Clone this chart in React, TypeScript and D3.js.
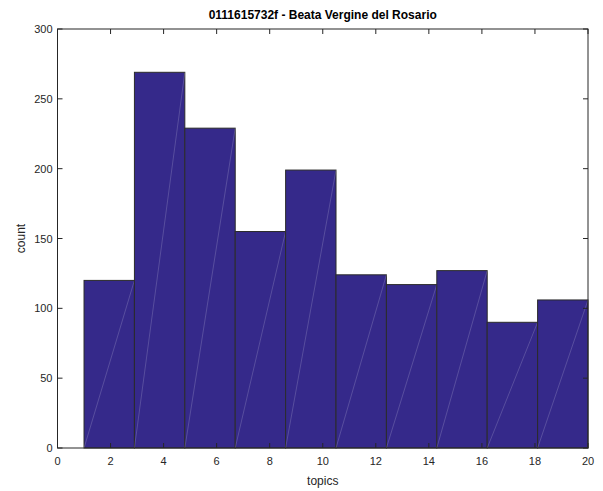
import React from "react";
import * as d3 from "d3";

const title = "0111615732f - Beata Vergine del Rosario";
const binEdges = [1, 2.9, 4.8, 6.7, 8.6, 10.5, 12.4, 14.3, 16.2, 18.1, 20];
const counts = [120, 269, 229, 155, 199, 124, 117, 127, 90, 106];
const xTicks = [0, 2, 4, 6, 8, 10, 12, 14, 16, 18, 20];
const yTicks = [0, 50, 100, 150, 200, 250, 300];

export default function App() {
  const W = 603, H = 491;
  const left = 57.5, right = 588, top = 29, bottom = 448;
  const x = d3.scaleLinear().domain([0, 20]).range([left, right]);
  const y = d3.scaleLinear().domain([0, 300]).range([bottom, top]);
  const font = "'Liberation Sans', Arial, Helvetica, sans-serif";
  const tl = 5;
  return (
    <svg width={W} height={H} style={{ position: "absolute", left: 0, top: 0 }} fontFamily={font}>
      <rect x={0} y={0} width={W} height={H} fill="#fff" />
      {counts.map((c, i) => {
        const x0 = x(binEdges[i]), x1 = x(binEdges[i + 1]);
        return (
          <g key={i}>
            <rect x={x0} y={y(c)} width={x1 - x0} height={y(0) - y(c)} fill="#35298a" stroke="#2b2b2b" strokeWidth={1} />
            <line x1={x0} y1={y(0)} x2={x1} y2={y(c)} stroke="rgba(255,255,255,0.35)" strokeWidth={0.5} />
          </g>
        );
      })}
      <rect x={left} y={top} width={right - left} height={bottom - top} fill="none" stroke="#262626" strokeWidth={1} />
      {xTicks.map((t) => (
        <g key={"x" + t}>
          <line x1={x(t)} x2={x(t)} y1={bottom} y2={bottom - tl} stroke="#262626" />
          <line x1={x(t)} x2={x(t)} y1={top} y2={top + tl} stroke="#262626" />
          <text x={x(t)} y={bottom + 17} textAnchor="middle" fontSize={11} fill="#262626">{t}</text>
        </g>
      ))}
      {yTicks.map((t) => (
        <g key={"y" + t}>
          <line x1={left} x2={left + tl} y1={y(t)} y2={y(t)} stroke="#262626" />
          <line x1={right} x2={right - tl} y1={y(t)} y2={y(t)} stroke="#262626" />
          <text x={left - 5} y={y(t) + 4} textAnchor="end" fontSize={11} fill="#262626">{t}</text>
        </g>
      ))}
      <text x={(left + right) / 2} y={485} textAnchor="middle" fontSize={12} fill="#262626">topics</text>
      <text transform={`translate(25,${(top + bottom) / 2}) rotate(-90)`} textAnchor="middle" fontSize={12} fill="#262626">count</text>
      <text x={(left + right) / 2} y={19} textAnchor="middle" fontSize={12} fontWeight="bold" fill="#000">{title}</text>
    </svg>
  );
}
